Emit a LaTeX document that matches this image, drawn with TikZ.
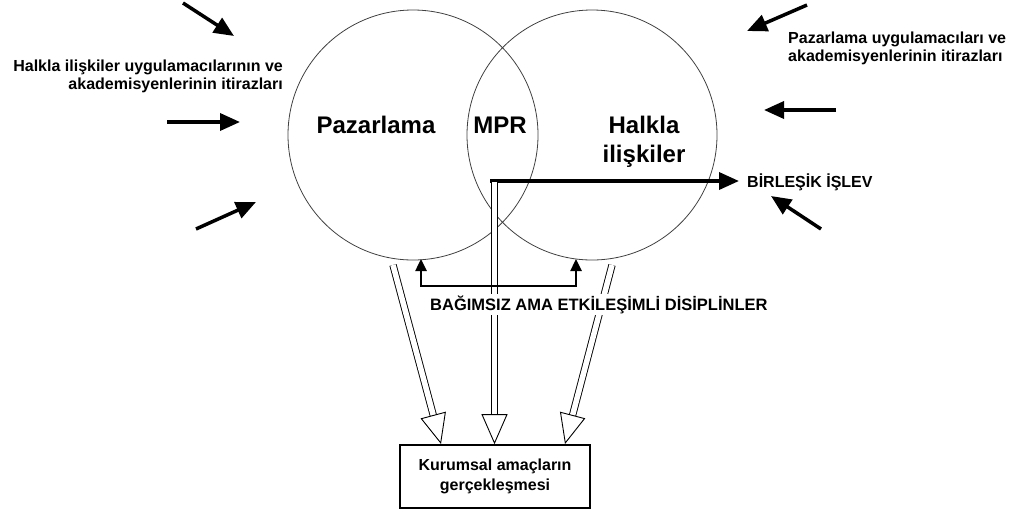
\documentclass[tikz,border=0pt]{standalone}
\usepackage{fontspec}
\setmainfont{Liberation Sans}
\usetikzlibrary{arrows.meta}
\begin{document}
\begin{tikzpicture}[x=1pt,y=-1pt,
  ring/.style={circle, draw=black!75, line width=0.8pt, minimum size=250pt, inner sep=0pt},
  bigword/.style={font=\bfseries\fontsize{24}{26}\selectfont, inner sep=0pt, anchor=base},
  lab/.style={font=\bfseries\fontsize{16}{18}\selectfont, inner sep=0pt},
  push/.style={line width=3.5pt, -{Triangle[length=20pt,width=17pt]}},
  hollowarrow/.style={double, double distance=5.5pt, line width=0.9pt, -{Triangle[open, length=30pt, width=26pt]}},
  bracketline/.style={line width=2.5pt, line join=miter, {Triangle[length=12pt,width=11pt]}-{Triangle[length=12pt,width=11pt]}},
  goal/.style={draw, line width=1.6pt, minimum width=190pt, minimum height=63pt, align=center, font=\bfseries\fontsize{16}{20}\selectfont}
]
\useasboundingbox (0,0) rectangle (1016,515);

% circles
\node[ring] (L) at (413,135) {};
\node[ring] (R) at (592,135) {};

% words in circles
\node[bigword] (paz) at (376,133) {Pazarlama};
\node[bigword] (mpr) at (500,133) {MPR};
\node[bigword] (hal) at (644,133) {Halkla};
\node[bigword] (ili) at (644,162) {ilişkiler};

% side labels
\node[lab, anchor=east, align=right] (hl) at (283,76) {Halkla ilişkiler uygulamacılarının ve\\akademisyenlerinin itirazları};
\node[lab, anchor=west, align=left] (pl) at (788,48) {Pazarlama uygulamacıları ve\\akademisyenlerinin itirazları};
\node[lab, anchor=base west] (bl) at (747,187) {BİRLEŞİK İŞLEV};

% goal box
\node[goal] (K) at (495,476.5) {Kurumsal amaçların\\gerçekleşmesi};

% pressure arrows, left
\coordinate (a1) at (183,3);   \coordinate (b1) at (234,36);
\coordinate (a2) at (167,122); \coordinate (b2) at (240,122);
\coordinate (a3) at (196,229); \coordinate (b3) at (256,202);
\draw[push] (a1) -- (b1);
\draw[push] (a2) -- (b2);
\draw[push] (a3) -- (b3);
% pressure arrows, right
\coordinate (a4) at (807,5);   \coordinate (b4) at (747,31);
\coordinate (a5) at (836,110); \coordinate (b5) at (764,110);
\coordinate (a6) at (821,229); \coordinate (b6) at (771,196);
\draw[push] (a4) -- (b4);
\draw[push] (a5) -- (b5);
\draw[push] (a6) -- (b6);

% joint function line
\coordinate (m0) at (490,181);
\draw[push] (m0) -- (m0 -| bl.west) [shorten >=8pt];

% hollow arrows to the box
\coordinate (h1) at (393,265);
\coordinate (h2) at (494.5,182);
\coordinate (h3) at (612,265);
\draw[hollowarrow] (h1) -- (441,444);
\draw[hollowarrow] (h2) -- (h2 |- K.north);
\draw[hollowarrow] (h3) -- (565,444);

% bracket
\coordinate (t1) at (421,259);
\coordinate (t2) at (576,259);
\draw[bracketline] (t1) -- (421,286) -- (576,286) -- (t2);

% label over the arrows
\node[lab, font=\bfseries\fontsize{16.5}{18}\selectfont, anchor=base west, fill=white, inner sep=1.5pt] (bd) at (428.5,310) {BAĞIMSIZ AMA ETKİLEŞİMLİ DİSİPLİNLER};
\end{tikzpicture}
\end{document}
